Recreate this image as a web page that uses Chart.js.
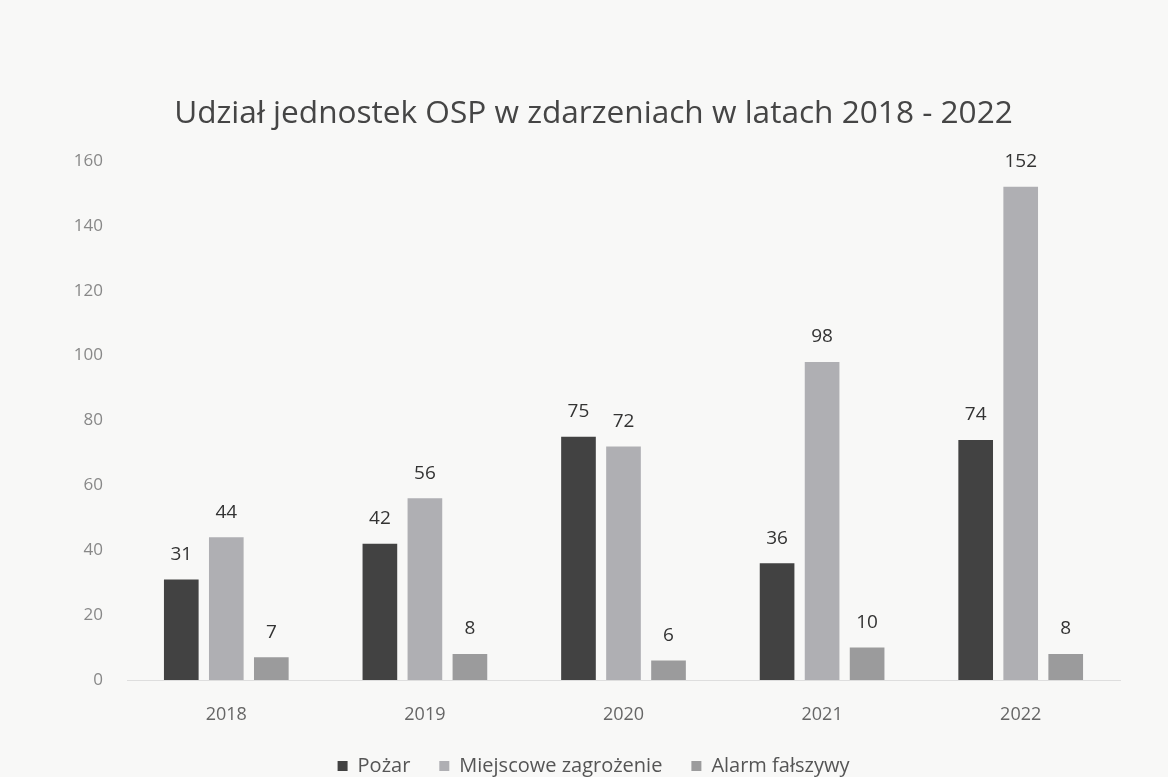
<!DOCTYPE html>
<html>
<head>
<meta charset="utf-8">
<script src="https://cdn.jsdelivr.net/npm/chart.js@4"></script>
<style>
  html, body { margin: 0; padding: 0; background: #f8f8f7; overflow: hidden; }
  #wrap { width: 1168px; height: 777px; }
</style>
</head>
<body>
<div id="wrap"><canvas id="chart" width="1168" height="777"></canvas></div>
<script>
const years = ['2018', '2019', '2020', '2021', '2022'];
const pozar = [31, 42, 75, 36, 74];
const miejscowe = [44, 56, 72, 98, 152];
const alarm = [7, 8, 6, 10, 8];
const seriesNames = ['Pożar', 'Miejscowe zagrożenie', 'Alarm fałszywy'];
const seriesColors = ['#424242', '#afafb3', '#9b9b9c'];

const FONT = '"Open Sans", Lato, sans-serif';

// values above each bar
const valueLabels = {
    id: 'valueLabels',
    afterDatasetsDraw(chart) {
        const ctx = chart.ctx;
        ctx.save();
        ctx.font = '19px ' + FONT;
        ctx.fillStyle = '#333333';
        ctx.textAlign = 'center';
        ctx.textBaseline = 'middle';
        chart.data.datasets.forEach((ds, i) => {
            chart.getDatasetMeta(i).data.forEach((bar, j) => {
                ctx.fillText(ds.data[j], bar.x, bar.y - 25);
            });
        });
        ctx.restore();
    }
};

const ctx = document.getElementById('chart').getContext('2d');
new Chart(ctx, {
    type: 'bar',
    data: {
        labels: years,
        datasets: [
            { label: seriesNames[0], data: pozar, backgroundColor: seriesColors[0] },
            { label: seriesNames[1], data: miejscowe, backgroundColor: seriesColors[1] },
            { label: seriesNames[2], data: alarm, backgroundColor: seriesColors[2] }
        ]
    },
    options: {
        responsive: false,
        animation: false,
        layout: { padding: { left: 67, right: 48, top: 0, bottom: -9 } },
        datasets: { bar: { categoryPercentage: 0.68, barPercentage: 0.77 } },
        plugins: {
            title: {
                display: true,
                text: 'Udział jednostek OSP w zdarzeniach w latach 2018 - 2022',
                color: '#454545',
                font: { family: FONT, size: 31.6, weight: 'normal' },
                padding: { top: 95, bottom: 28 }
            },
            legend: {
                position: 'bottom',
                labels: {
                    color: '#555555',
                    font: { family: FONT, size: 20 },
                    boxWidth: 10,
                    boxHeight: 10,
                    padding: 29
                }
            },
            tooltip: { enabled: false }
        },
        scales: {
            x: {
                afterFit: (axis) => { axis.height = 47; },
                grid: { display: false },
                border: { color: '#dedede' },
                ticks: { color: '#666666', font: { family: FONT, size: 18 }, padding: 16 }
            },
            y: {
                min: 0,
                max: 160,
                afterFit: (axis) => { axis.width = 60; },
                grid: { display: false },
                border: { display: false },
                ticks: { stepSize: 20, color: '#888888', font: { family: FONT, size: 17 }, padding: 16 }
            }
        }
    },
    plugins: [valueLabels]
});
</script>
</body>
</html>
